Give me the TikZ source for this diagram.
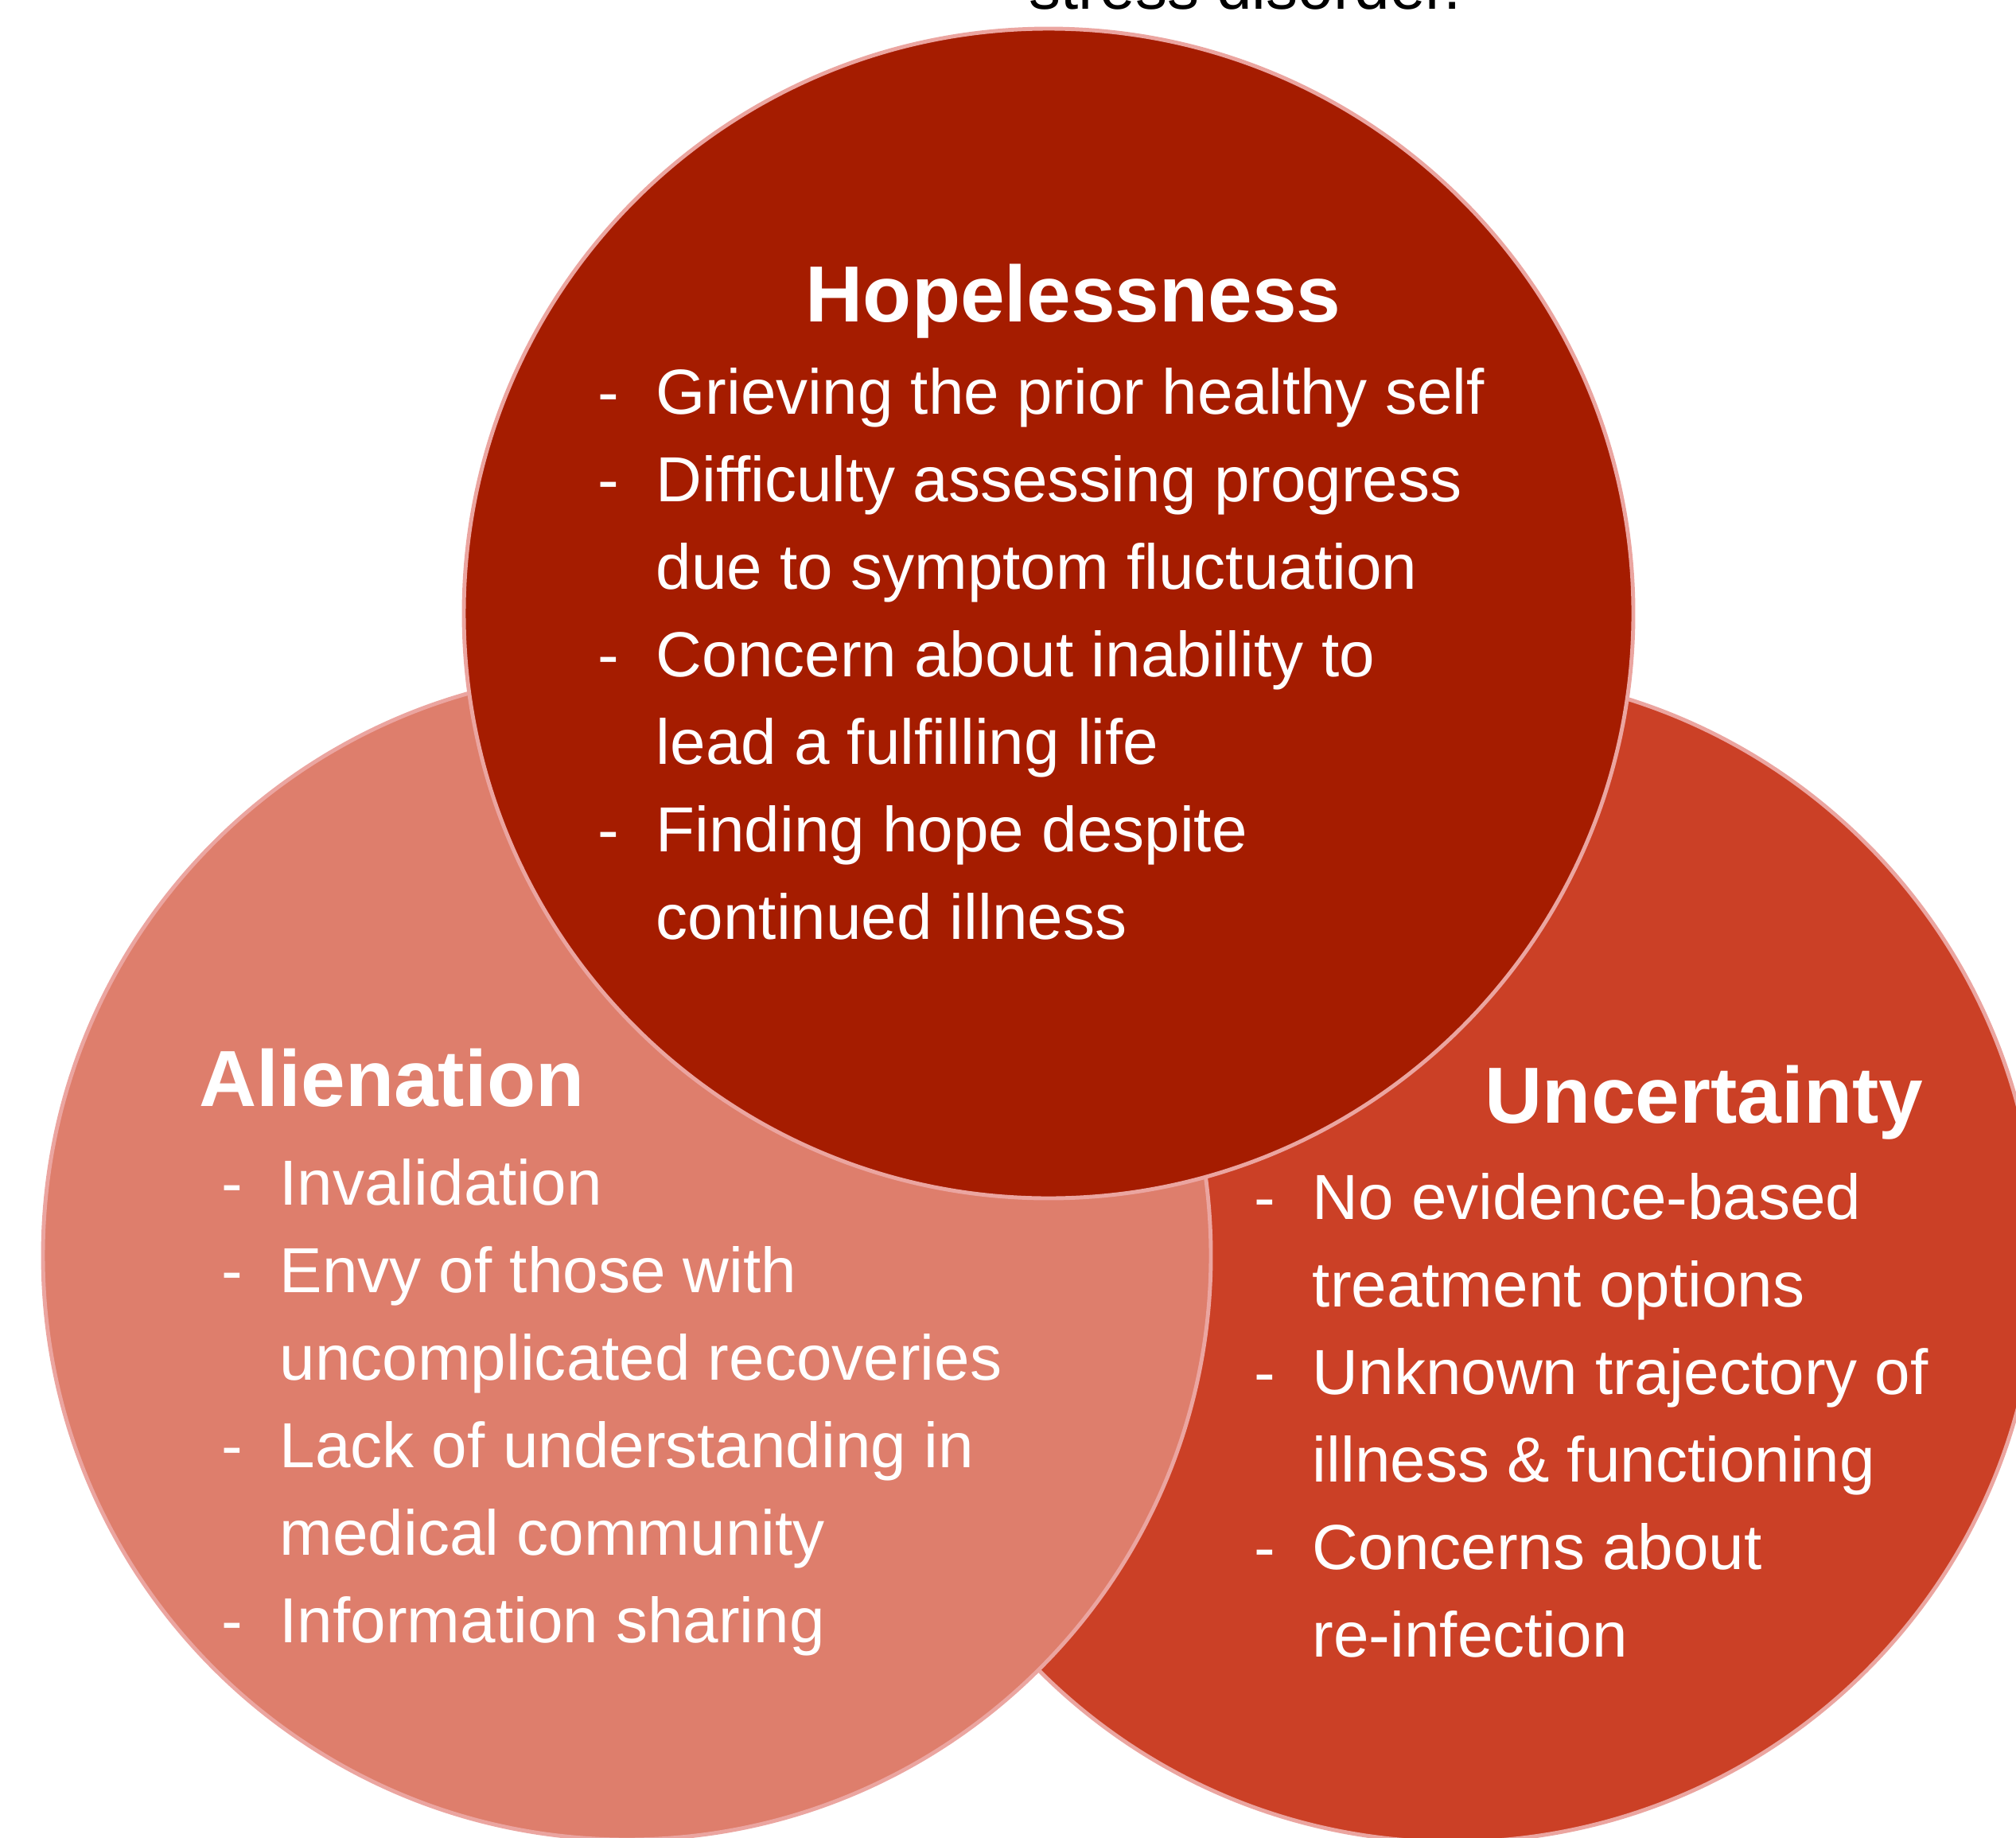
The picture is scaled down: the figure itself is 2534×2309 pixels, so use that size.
\documentclass[tikz,border=0pt]{standalone}
\usepackage{fontspec}
\setmainfont{Liberation Sans}
\definecolor{hopered}{RGB}{165,28,0}
\definecolor{alienpink}{RGB}{222,126,108}
\definecolor{uncertred}{RGB}{203,64,38}
\definecolor{rimpink}{RGB}{235,165,160}
\tikzset{
  venn/.style={draw=rimpink, line width=1.4pt},
  heading/.style={anchor=base west, inner sep=0, text=white, font=\fontsize{28.45}{34}\selectfont\bfseries},
  points/.style={anchor=base west, inner sep=0, text=white, font=\fontsize{22.76}{31.3}\selectfont},
}
\begin{document}
\begin{tikzpicture}[x=0.01cm, y=-0.01cm]
\useasboundingbox (0,0) rectangle (2534,2309);
% caption line running off the top
\node[anchor=base west, inner sep=0, font=\fontsize{22.76}{31.3}\selectfont] (caption) at (1293,12) {stress disorder.};
% the three circles, back to front
\coordinate (cu) at (1826,1580);
\coordinate (ca) at (788,1578);
\coordinate (ch) at (1318,771);
\fill[venn, fill=uncertred] (cu) circle (735);
\fill[venn, fill=alienpink] (ca) circle (734);
\fill[venn, fill=hopered] (ch) circle (735);
% top circle
\node[heading] (hopehead) at (1012,404) {Hopelessness};
\node[points] (hopelist) at (751,520) {\begin{tabular}[t]{@{}p{0.73cm}@{}l@{}}
- & Grieving the prior healthy self\\
- & Difficulty assessing progress\\
  & due to symptom fluctuation\\
- & Concern about inability to\\
  & lead a fulfilling life\\
- & Finding hope despite\\
  & continued illness
\end{tabular}};
% left circle
\node[heading] (alienhead) at (250,1390) {Alienation};
\node[points] (alienlist) at (278,1514) {\begin{tabular}[t]{@{}p{0.73cm}@{}l@{}}
- & Invalidation\\
- & Envy of those with\\
  & uncomplicated recoveries\\
- & Lack of understanding in\\
  & medical community\\
- & Information sharing
\end{tabular}};
% right circle
\node[heading] (uncerthead) at (1866,1411) {Uncertainty};
\node[points] (uncertlist) at (1576,1532) {\begin{tabular}[t]{@{}p{0.73cm}@{}l@{}}
- & No evidence-based\\
  & treatment options\\
- & Unknown trajectory of\\
  & illness \& functioning\\
- & Concerns about\\
  & re-infection
\end{tabular}};
\end{tikzpicture}
\end{document}
